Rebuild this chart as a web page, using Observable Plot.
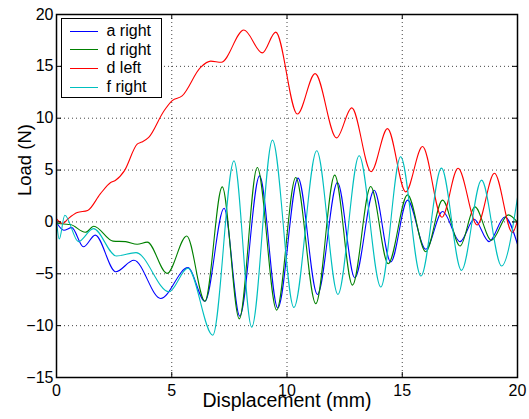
<!DOCTYPE html>
<html>
<head>
<meta charset="utf-8">
<script src="https://cdn.jsdelivr.net/npm/d3@7"></script>
<script src="https://cdn.jsdelivr.net/npm/@observablehq/plot@0.6"></script>
<style>
  html, body { margin: 0; padding: 0; background: #fff; }
  #wrap { position: relative; width: 529px; height: 419px; font-family: "Liberation Sans", Arial, Helvetica, sans-serif; }
  #legend { position: absolute; left: 61px; top: 18px; width: 101px; height: 80px; box-sizing: border-box;
            border: 1.5px solid #000; background: #fff; padding-top: 3px; font-size: 16px; color: #000; }
  .row { display: flex; align-items: center; height: 18.6px; }
  .sw { margin-left: 7.5px; width: 28px; height: 0; }
  .lb { margin-left: 9px; white-space: nowrap; }
</style>
</head>
<body>
<div id="wrap"></div>
<script>
// Series names and colours (MATLAB default order)
const seriesNames = ["a right", "d right", "d left", "f right"];
const seriesColors = ["#0000ff", "#008000", "#ff0000", "#00bfbf"];

// a right (blue)
const aRightX = [0, 0.32, 0.66, 1.17, 1.68, 2.57, 3.36, 4.52, 5.7, 6.44, 7.27, 7.95, 8.81, 9.6, 10.48, 11.32, 12.19, 12.94, 13.78, 14.5, 15.23, 16.02, 16.75, 17.51, 18.12, 18.77, 19.45, 20];
const aRightY = [-0.05, -0.8, -0.55, -2.4, -1.27, -4.8, -3.7, -7.38, -4.41, -7.65, 1.32, -9.08, 4.44, -8.3, 4.22, -6.99, 3.8, -5.38, 3.06, -3.86, 2.1, -2.64, 1.0, -1.9, 0.26, -1.9, 0.48, -2.16];

// d right (green)
const dRightX = [0, 0.3, 0.6, 1.25, 1.62, 2.45, 3.0, 3.5, 3.94, 4.8, 5.65, 6.44, 7.19, 7.93, 8.71, 9.55, 10.38, 11.25, 12.07, 12.84, 13.63, 14.39, 15.23, 16.02, 16.75, 17.51, 18.15, 18.87, 19.6, 20];
const dRightY = [-0.1, -0.2, -0.25, -1.0, -0.42, -1.85, -1.9, -2.15, -1.95, -4.96, -1.35, -7.65, 3.38, -9.35, 5.25, -8.5, 4.28, -7.89, 4.51, -6.09, 3.41, -4.03, 2.61, -2.87, 2.1, -2.32, 1.45, -1.77, 0.68, -0.05];

// d left (red)
const dLeftX = [0, 0.27, 0.5, 0.9, 1.35, 1.9, 2.35, 2.55, 2.95, 3.5, 3.7, 4.0, 4.66, 5.02, 5.45, 6.25, 6.69, 7.15, 8.13, 8.93, 9.51, 10.45, 11.22, 12.15, 12.81, 13.65, 14.36, 15.15, 15.88, 16.72, 17.42, 18.25, 19.0, 19.78, 20];
const dLeftY = [0.3, -0.15, 0.3, 0.9, 1.1, 2.7, 3.8, 4.0, 4.95, 7.5, 7.7, 8.15, 10.7, 11.7, 12.15, 14.9, 15.5, 15.4, 18.5, 16.3, 18.3, 10.4, 14.3, 8.1, 11.0, 4.85, 9.0, 2.9, 7.27, 0.45, 5.17, -0.3, 4.7, -1.03, 0.15];

// f right (cyan)
const fRightX = [0, 0.12, 0.36, 0.95, 1.6, 2.6, 3.45, 4.88, 5.7, 6.78, 7.7, 8.47, 9.37, 10.3, 11.29, 12.21, 13.13, 14.07, 14.93, 15.81, 16.7, 17.57, 18.44, 19.31, 20];
const fRightY = [0.1, -1.65, 0.65, -1.9, -0.65, -3.29, -2.96, -6.73, -4.45, -10.92, 5.89, -10.14, 7.89, -8.25, 6.86, -6.99, 6.38, -6.28, 6.28, -5.22, 5.19, -4.67, 4.03, -4.25, 2.35];

// Axes
const xTicks = [0, 5, 10, 15, 20];
const yTicks = [-15, -10, -5, 0, 5, 10, 15, 20];
const xDomain = [0, 20];
const yDomain = [-15, 20];
const xLabel = "Displacement (mm)";
const yLabel = "Load (N)";

const seriesXs = [aRightX, dRightX, dLeftX, fRightX];
const seriesYs = [aRightY, dRightY, dLeftY, fRightY];
const rows = [];
seriesNames.forEach((name, i) => {
  seriesXs[i].forEach((x, j) => rows.push({name, x, y: seriesYs[i][j]}));
});

const W = 529, H = 419, mL = 56, mR = 12, mT = 14, mB = 42;
const innerW = W - mL - mR, innerH = H - mT - mB;
const tick = 5;

const chart = Plot.plot({
  width: W, height: H,
  marginLeft: mL, marginRight: mR, marginTop: mT, marginBottom: mB,
  style: {fontFamily: "Liberation Sans, Arial, Helvetica, sans-serif", fontSize: "16px", background: "white", color: "black"},
  x: {domain: xDomain, ticks: xTicks, tickSize: 0, tickPadding: 7, label: null, tickFormat: d => String(d)},
  y: {domain: yDomain, ticks: yTicks, tickSize: 0, tickPadding: 3, label: null, tickFormat: d => (d < 0 ? "\u2212" + Math.abs(d) : String(d))},
  color: {domain: seriesNames, range: seriesColors},
  marks: [
    Plot.ruleX(xTicks, {x: d => d, stroke: "#444", strokeWidth: 1, strokeDasharray: "1,3"}),
    Plot.ruleY(yTicks, {y: d => d, stroke: "#444", strokeWidth: 1, strokeDasharray: "1,3"}),
    Plot.line(rows, {x: "x", y: "y", z: "name", stroke: "name", curve: "monotone-x", strokeWidth: 1.1}),
    Plot.tickX(xTicks, {x: d => d, stroke: "#000", insetTop: innerH - tick}),
    Plot.tickX(xTicks, {x: d => d, stroke: "#000", insetBottom: innerH - tick}),
    Plot.tickY(yTicks, {y: d => d, stroke: "#000", insetRight: innerW - tick}),
    Plot.tickY(yTicks, {y: d => d, stroke: "#000", insetLeft: innerW - tick}),
    Plot.frame({stroke: "#000", strokeWidth: 1.5}),
    Plot.text([xLabel], {text: d => d, frameAnchor: "bottom", dy: 29, fontSize: 19.5, fill: "#000"}),
    Plot.text([yLabel], {text: d => d, frameAnchor: "left", dx: -31, rotate: -90, fontSize: 18.5, fill: "#000"})
  ]
});

const wrap = document.getElementById("wrap");
wrap.appendChild(chart);

// Legend (HTML overlay)
const legend = document.createElement("div");
legend.id = "legend";
seriesNames.forEach((name, i) => {
  const row = document.createElement("div");
  row.className = "row";
  const sw = document.createElement("span");
  sw.className = "sw";
  sw.style.borderTop = "1.3px solid " + seriesColors[i];
  const lb = document.createElement("span");
  lb.className = "lb";
  lb.textContent = name;
  row.appendChild(sw);
  row.appendChild(lb);
  legend.appendChild(row);
});
wrap.appendChild(legend);
</script>
</body>
</html>
